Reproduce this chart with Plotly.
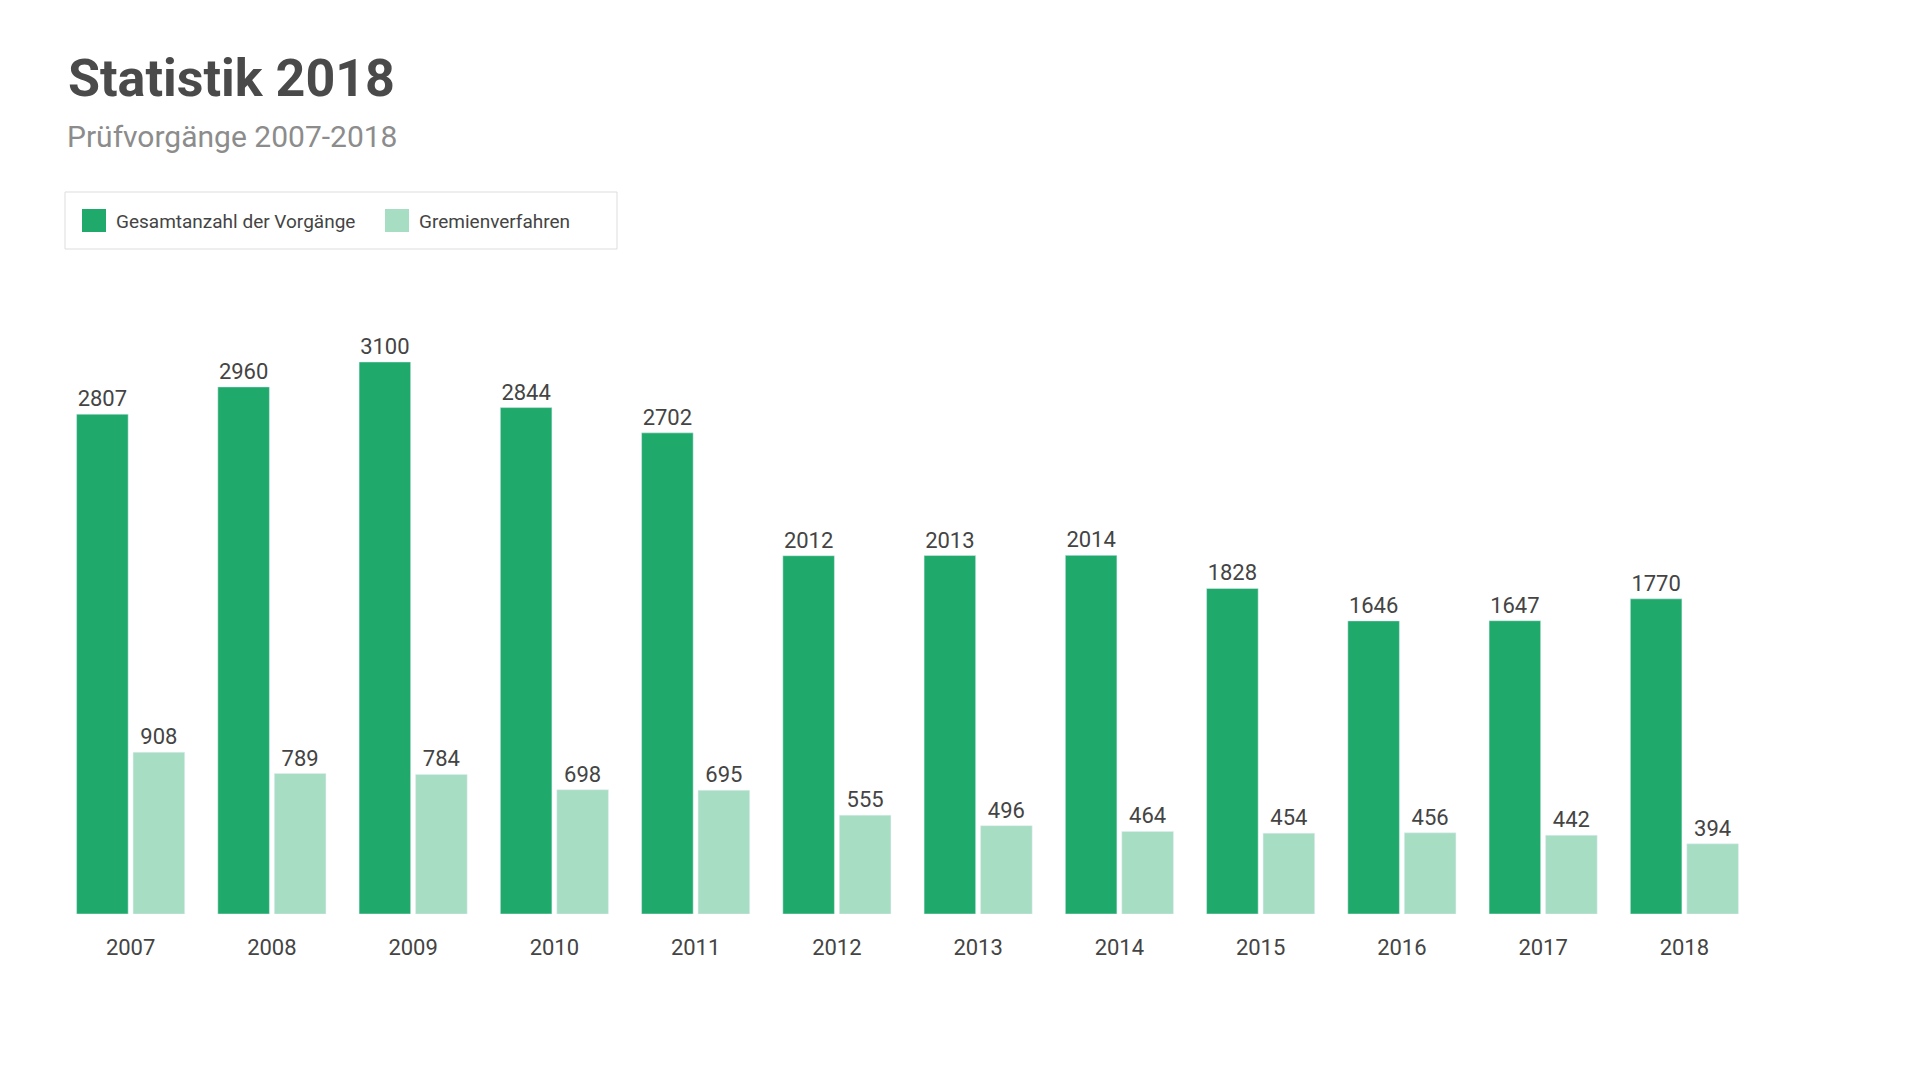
import plotly.graph_objects as go

# Jahre und Werte
jahre = ["2007", "2008", "2009", "2010", "2011", "2012",
         "2013", "2014", "2015", "2016", "2017", "2018"]
gesamt = [2807, 2960, 3100, 2844, 2702, 2012, 2013, 2014, 1828, 1646, 1647, 1770]
gremien = [908, 789, 784, 698, 695, 555, 496, 464, 454, 456, 442, 394]
serien = ["Gesamtanzahl der Vorgänge", "Gremienverfahren"]

dunkelgruen = "#1faa6b"
hellgruen = "#a7ddc3"
textfarbe = "#444444"

W, H = 1921, 1081
links, rechts, oben, unten = 52, 174, 250, 175
plot_w = W - links - rechts
plot_h = H - oben - unten


def px(x):
    # Pixel (von links) -> paper-Koordinate
    return (x - links) / plot_w


def py_(y):
    # Pixel (von oben) -> paper-Koordinate
    return (H - unten - y) / plot_h


trace1 = go.Bar(x=jahre, y=gesamt, name=serien[0],
                marker=dict(color=dunkelgruen),
                text=gesamt, textposition="outside", cliponaxis=False,
                textfont=dict(size=22, color=textfarbe), showlegend=False)
trace2 = go.Bar(x=jahre, y=gremien, name=serien[1],
                marker=dict(color=hellgruen),
                text=gremien, textposition="outside", cliponaxis=False,
                textfont=dict(size=22, color=textfarbe), showlegend=False)

fig = go.Figure(data=[trace1, trace2])

# eigene Legende (Kasten, Farbfelder, Texte)
shapes = [
    dict(type="rect", xref="paper", yref="paper",
         x0=px(57), x1=px(609), y0=py_(184), y1=py_(241),
         line=dict(color="#dddddd", width=1), fillcolor="white", layer="below"),
    dict(type="rect", xref="paper", yref="paper",
         x0=px(74), x1=px(98), y0=py_(201), y1=py_(224),
         line=dict(width=0), fillcolor=dunkelgruen),
    dict(type="rect", xref="paper", yref="paper",
         x0=px(377), x1=px(401), y0=py_(201), y1=py_(224),
         line=dict(width=0), fillcolor=hellgruen),
]
annotations = [
    dict(text=serien[0], x=px(106), y=py_(213), xref="paper", yref="paper",
         xanchor="left", yanchor="middle", showarrow=False,
         font=dict(size=19, color=textfarbe)),
    dict(text=serien[1], x=px(409), y=py_(213), xref="paper", yref="paper",
         xanchor="left", yanchor="middle", showarrow=False,
         font=dict(size=19, color=textfarbe)),
    dict(text="Prüfvorgänge 2007-2018", x=px(57), y=py_(129),
         xref="paper", yref="paper", xanchor="left", yanchor="middle",
         showarrow=False, font=dict(size=30, color="#8c8c8c")),
]

fig.update_layout(
    width=W, height=H,
    paper_bgcolor="white", plot_bgcolor="white",
    font=dict(family="Roboto", color=textfarbe),
    margin=dict(l=links, r=rechts, t=oben, b=unten),
    barmode="group", bargap=0.2, bargroupgap=0.087,
    title=dict(
        text="<b>Statistik 2018</b>",
        font=dict(size=52, color="#4a4a4a"),
        x=60 / W, xref="container", xanchor="left",
        y=1 - 52 / H, yref="container", yanchor="top",
    ),
    showlegend=False,
    shapes=shapes,
    annotations=annotations,
)

fig.update_xaxes(type="category", showgrid=False, showline=False, zeroline=False,
                 ticks="", tickfont=dict(size=22, color=textfarbe), ticklabelstandoff=18)
fig.update_yaxes(visible=False, range=[0, 3684], showgrid=False)

fig.write_html("out.html")
